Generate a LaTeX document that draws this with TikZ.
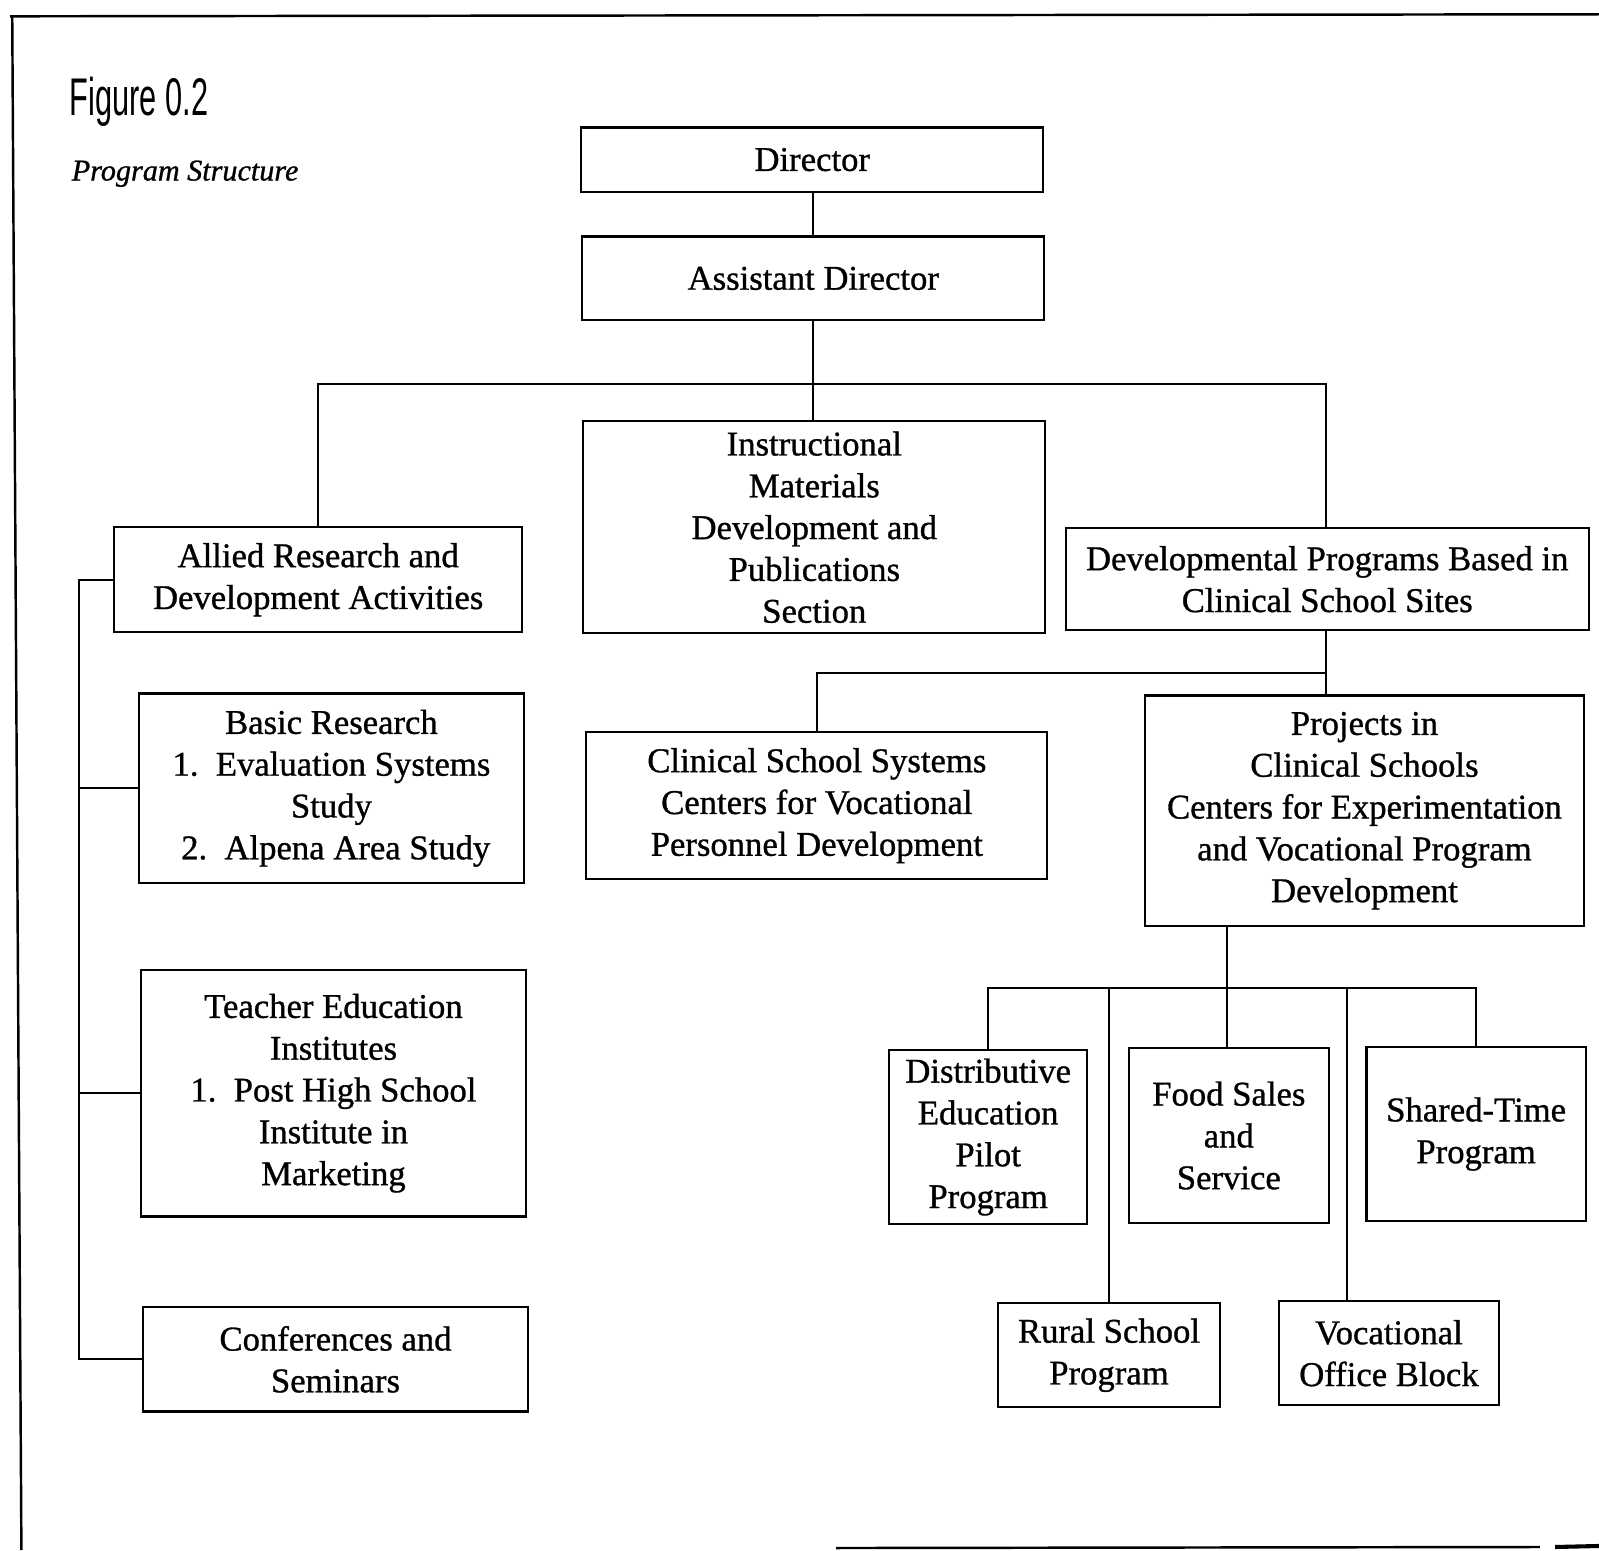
\documentclass[tikz,border=0pt]{standalone}
\usepackage{fontspec}
\usepackage{graphicx}
\setmainfont[FakeBold=0.9]{Liberation Serif}
\newfontfamily\titlefont{Liberation Sans}
\tikzset{
  box/.style={draw, line width=1.1pt, align=center, inner sep=2pt,
    font=\fontsize{17}{20.5}\selectfont},
  conn/.style={line width=1pt},
  frame/.style={line width=1.2pt}
}
\newcommand\bx[6]{\node[box, minimum width={(#4-#2)*0.5pt}, minimum height={(#5-#3)*0.5pt}] (#1) at ({(#2+#4)/2},{(#3+#5)/2}) {#6};}
\begin{document}
\begin{tikzpicture}[x=0.5pt,y=-0.5pt]
\useasboundingbox (0,0) rectangle (1568,1520);
% frame
\draw[frame] (10,16) -- (1568,14);
\draw[frame] (12,16) -- (21,1520);
\draw[frame] (820,1518) -- (1510,1517);
\draw[line width=2pt] (1525,1517) -- (1568,1516);
% titles
\node[anchor=base west, inner sep=0pt] (fig) at (68,113) {\scalebox{0.58}[1]{\titlefont\fontsize{26}{28}\selectfont Figure 0.2}};
\node[anchor=base west, inner sep=0pt] (sub) at (70,177) {\fontsize{14.8}{18}\selectfont\itshape Program Structure};
% boxes
\bx{dir}{570}{125}{1023}{188}{Director}
\bx{asst}{571}{232}{1024}{314}{Assistant Director}
\bx{instr}{572}{413}{1025}{621}{Instructional\\Materials\\Development and\\Publications\\Section}
\bx{allied}{112}{517}{512}{620}{Allied Research and\\Development Activities}
\bx{devp}{1045}{518}{1558}{618}{Developmental Programs Based in\\Clinical School Sites}
\bx{basic}{136}{680}{514}{866}{Basic Research\\1.\ \ Evaluation Systems\\Study\\\ 2.\ \ Alpena Area Study}
\bx{teach}{138}{951}{516}{1193}{Teacher Education\\Institutes\\1.\ \ Post High School\\Institute in\\Marketing}
\bx{conf}{140}{1282}{518}{1384}{Conferences and\\Seminars}
\bx{clin}{575}{718}{1027}{862}{Clinical School Systems\\Centers for Vocational\\Personnel Development}
\bx{proj}{1123}{682}{1553}{908}{Projects in\\Clinical Schools\\Centers for Experimentation\\and Vocational Program\\Development}
\bx{dist}{872}{1030}{1066}{1200}{Distributive\\Education\\Pilot\\Program}
\bx{food}{1107}{1028}{1303}{1199}{Food Sales\\and\\Service}
\bx{shared}{1340}{1027}{1555}{1197}{Shared-Time\\Program}
\bx{rural}{979}{1278}{1196}{1380}{Rural School\\Program}
\bx{voc}{1254}{1276}{1470}{1378}{Vocational\\Office Block}
% connectors
\coordinate (j1) at (797,377);
\coordinate (busx) at (77,0);
\coordinate (j2) at (1300,660);
\coordinate (j3) at (1203,969);
\coordinate (vx) at (1321,969);
\draw[conn] (dir.south -| j1) -- (asst.north -| j1);
\draw[conn] (asst.south -| j1) -- (j1);
\draw[conn] (allied.north) |- (j1) -| (devp.north -| j2);
\draw[conn] (j1) -- (instr.north -| j1);
\draw[conn] (allied.west) -- (allied.west -| busx) |- (conf.west);
\draw[conn] (basic.west) -- (basic.west -| busx);
\draw[conn] (teach.west) -- (teach.west -| busx);
\draw[conn] (devp.south -| j2) -- (proj.north -| j2);
\draw[conn] (clin.north) |- (j2);
\draw[conn] (proj.south -| j3) -- (j3);
\draw[conn] (dist.north) |- (j3) -| (shared.north);
\draw[conn] (j3) -- (food.north -| j3);
\draw[conn] (rural.north) -- (rural.north |- j3);
\draw[conn] (vx) -- (voc.north -| vx);
\end{tikzpicture}
\end{document}
